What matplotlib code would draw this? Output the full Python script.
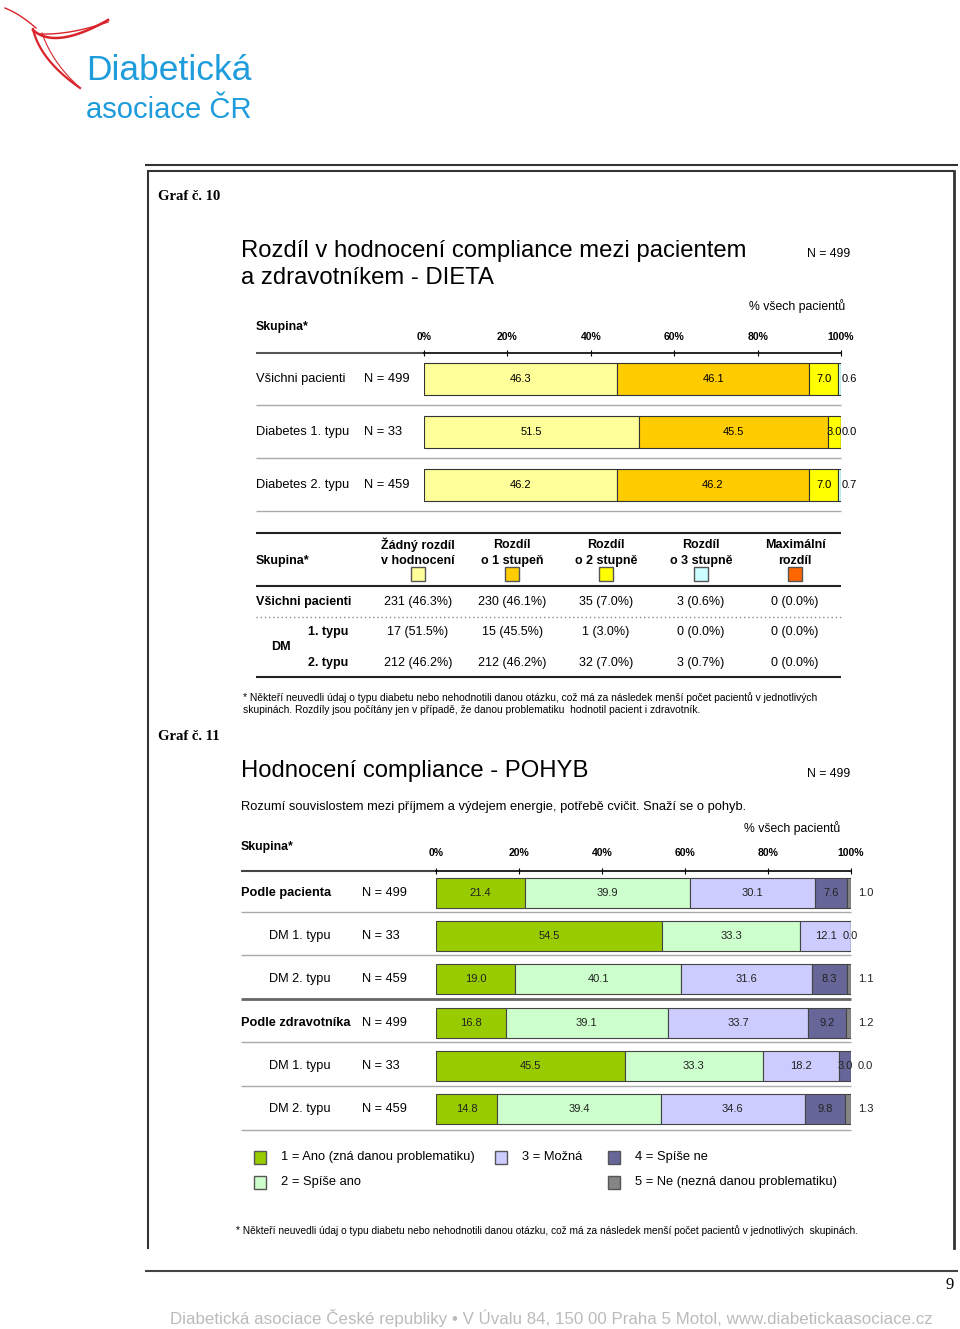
import numpy as np
import matplotlib
matplotlib.use('Agg')
import matplotlib.pyplot as plt
import matplotlib.transforms as mtransforms
from matplotlib.patches import Rectangle

plt.rcParams['font.family'] = ['Liberation Sans', 'DejaVu Sans']

# ---- data: graf 10 (DIETA) ----
diet_groups = ['Všichni pacienti', 'Diabetes 1. typu', 'Diabetes 2. typu']
diet_n = ['N = 499', 'N = 33', 'N = 459']
diet_cats = ['Žádný rozdíl\nv hodnocení', 'Rozdíl\no 1 stupeň', 'Rozdíl\no 2 stupně',
             'Rozdíl\no 3 stupně', 'Maximální\nrozdíl']
diet_colors = ['#FFFF99', '#FFCC00', '#FFFF00', '#CCFFFF', '#FF6600']
diet_all = [46.3, 46.1, 7.0, 0.6, 0.0]
diet_dm1 = [51.5, 45.5, 3.0, 0.0, 0.0]
diet_dm2 = [46.2, 46.2, 7.0, 0.7, 0.0]
diet_counts_all = [231, 230, 35, 3, 0]
diet_counts_dm1 = [17, 15, 1, 0, 0]
diet_counts_dm2 = [212, 212, 32, 3, 0]

# ---- data: graf 11 (POHYB) ----
move_groups = ['Podle pacienta', 'DM 1. typu', 'DM 2. typu',
               'Podle zdravotníka', 'DM 1. typu', 'DM 2. typu']
move_n = ['N = 499', 'N = 33', 'N = 459', 'N = 499', 'N = 33', 'N = 459']
move_cats = ['1 = Ano (zná danou problematiku)', '2 = Spíše ano', '3 = Možná',
             '4 = Spíše ne', '5 = Ne (nezná danou problematiku)']
move_colors = ['#99CC00', '#CCFFCC', '#CCCCFF', '#666699', '#858585']
move_pac = [21.4, 39.9, 30.1, 7.6, 1.0]
move_pac_dm1 = [54.5, 33.3, 12.1, 0.0, 0.0]
move_pac_dm2 = [19.0, 40.1, 31.6, 8.3, 1.1]
move_zdr = [16.8, 39.1, 33.7, 9.2, 1.2]
move_zdr_dm1 = [45.5, 33.3, 18.2, 3.0, 0.0]
move_zdr_dm2 = [14.8, 39.4, 34.6, 9.8, 1.3]

ticks = [0, 20, 40, 60, 80, 100]
tick_labels = ['0%', '20%', '40%', '60%', '80%', '100%']

W, H = 960, 1329
fig = plt.figure(figsize=(W / 100, H / 100), dpi=100)
page = fig.add_axes([0, 0, 1, 1])
page.set_xlim(0, W)
page.set_ylim(H, 0)
page.axis('off')


def px_axes(x0, y0, x1, y1):
    return fig.add_axes([x0 / W, 1 - y1 / H, (x1 - x0) / W, (y1 - y0) / H])


def hline(y, x0, x1, color='#999999', lw=1.0, ls='-'):
    page.plot([x0, x1], [y, y], color=color, lw=lw, ls=ls, solid_capstyle='butt')


# ---- logo ----
def bez(p0, p1, p2, n=40):
    t = np.linspace(0, 1, n)[:, None]
    pts = (1 - t) ** 2 * np.array(p0) + 2 * (1 - t) * t * np.array(p1) + t ** 2 * np.array(p2)
    return pts[:, 0], pts[:, 1]

red = '#D9242B'
for p0, p1, p2, lw in [((5, 8), (20, 14), (36, 28), 1.0),
                       ((33, 30), (55, 50), (108, 20), 1.8),
                       ((40, 34), (70, 35), (108, 22), 1.0),
                       ((33, 29), (40, 60), (80, 88), 1.6),
                       ((42, 33), (52, 62), (78, 86), 0.8)]:
    x, y = bez(p0, p1, p2)
    page.plot(x, y, color=red, lw=lw)
page.text(86, 70, 'Diabetická', color='#1E9CDB', fontsize=25.5, va='center', ha='left')
page.text(86, 110, 'asociace ČR', color='#1E9CDB', fontsize=21, va='center', ha='left')

# ---- page frame ----
hline(165, 145, 958, color='#333333', lw=1.5)
hline(171, 148, 954, color='#333333', lw=1.5)
page.plot([148, 148], [171, 1248], color='#333333', lw=1.5)
page.plot([954, 954], [171, 1248], color='#333333', lw=2.0)
hline(1271, 145, 958, color='#444444', lw=1.5)
page.text(950, 1285, '9', family='Liberation Serif', fontsize=12, ha='center', va='center')
page.text(551, 1318, 'Diabetická asociace České republiky • V Úvalu 84, 150 00 Praha 5 Motol, '
          'www.diabetickaasociace.cz', color='#BBBBBB', fontsize=12.2, ha='center', va='center')

serif_bold = dict(family='Liberation Serif', fontweight='bold', fontsize=10.5, va='center')

# ================= Graf 10 =================
page.text(158, 197, 'Graf č. 10', **serif_bold)
page.text(241, 251, 'Rozdíl v hodnocení compliance mezi pacientem', fontsize=17.2, va='center')
page.text(241, 278, 'a zdravotníkem - DIETA', fontsize=17.2, va='center')
page.text(807, 254, 'N = 499', fontsize=8.8, va='center')
page.text(845, 306, '% všech pacientů', fontsize=8.8, va='center', ha='right')
page.text(256, 327, 'Skupina*', fontsize=8.8, fontweight='bold', va='center')

ax1 = px_axes(424, 353, 841, 511)
rows1 = [diet_all, diet_dm1, diet_dm2]
for i, vals in enumerate(rows1):
    left = 0
    for j, v in enumerate(vals):
        ax1.barh(i, v, left=left, height=0.61, color=diet_colors[j], edgecolor='#333333', lw=0.8)
        if j < 3:
            ax1.text(left + v / 2, i, f'{v:.1f}', ha='center', va='center', fontsize=8)
        elif j == 3:
            ax1.text(100.2, i, f'{v:.1f}', ha='left', va='center', fontsize=8, clip_on=False)
        left += v
ax1.set_xlim(0, 100)
ax1.set_ylim(len(rows1) - 0.5, -0.5)
ax1.xaxis.tick_top()
ax1.set_xticks(ticks)
ax1.set_xticklabels(tick_labels, fontweight='bold', fontsize=7.5)
ax1.tick_params(axis='x', direction='inout', length=4, pad=6, width=0.8)
ax1.set_yticks([])
for s in ['left', 'right', 'bottom']:
    ax1.spines[s].set_visible(False)
ax1.spines['top'].set_linewidth(1.2)
ax1.patch.set_alpha(0)
hline(353, 256, 424, color='#555555', lw=1.5)

blend1 = mtransforms.blended_transform_factory(page.transData, ax1.transData)
for i, (g, n) in enumerate(zip(diet_groups, diet_n)):
    ax1.text(256, i, g, transform=blend1, fontsize=9.3, va='center', clip_on=False)
    ax1.text(364, i, n, transform=blend1, fontsize=9.3, va='center', clip_on=False)
for y in [405, 458, 511]:
    hline(y, 256, 841, color='#AAAAAA', lw=1.0)

# table
col_x = [418, 512, 606, 701, 795]
hline(533, 256, 841, color='#222222', lw=1.5)
hline(586, 256, 841, color='#222222', lw=1.5)
hline(617, 256, 841, color='#888888', lw=1.0, ls=(0, (1, 2)))
hline(677, 256, 841, color='#222222', lw=1.5)
page.text(256, 561, 'Skupina*', fontsize=9, fontweight='bold', va='center')
for cx, cat, col in zip(col_x, diet_cats, diet_colors):
    l1, l2 = cat.split('\n')
    page.text(cx, 545, l1, fontsize=9, fontweight='bold', ha='center', va='center')
    page.text(cx, 561, l2, fontsize=9, fontweight='bold', ha='center', va='center')
    page.add_patch(Rectangle((cx - 7, 567), 14, 14, facecolor=col, edgecolor='#555555', lw=1))

table_rows = [(602, diet_counts_all, diet_all), (632, diet_counts_dm1, diet_dm1),
              (663, diet_counts_dm2, diet_dm2)]
page.text(256, 602, 'Všichni pacienti', fontsize=9, fontweight='bold', va='center')
page.text(308, 632, '1. typu', fontsize=9, fontweight='bold', va='center')
page.text(271, 647, 'DM', fontsize=9, fontweight='bold', va='center')
page.text(308, 663, '2. typu', fontsize=9, fontweight='bold', va='center')
for y, cnts, pcts in table_rows:
    for cx, c, p in zip(col_x, cnts, pcts):
        page.text(cx, y, f'{c} ({p:.1f}%)', fontsize=9, ha='center', va='center')

page.text(243, 698, '* Někteří neuvedli údaj o typu diabetu nebo nehodnotili danou otázku, což má za '
          'následek menší počet pacientů v jednotlivých', fontsize=7.35, va='center')
page.text(243, 710, 'skupinách. Rozdíly jsou počítány jen v případě, že danou problematiku  '
          'hodnotil pacient i zdravotník.', fontsize=7.35, va='center')

# ================= Graf 11 =================
page.text(158, 737, 'Graf č. 11', **serif_bold)
page.text(241, 771, 'Hodnocení compliance - POHYB', fontsize=17.2, va='center')
page.text(807, 774, 'N = 499', fontsize=8.8, va='center')
page.text(241, 807, 'Rozumí souvislostem mezi příjmem a výdejem energie, potřebě cvičit. '
          'Snaží se o pohyb.', fontsize=9.3, va='center')
page.text(840, 828, '% všech pacientů', fontsize=8.8, va='center', ha='right')
page.text(241, 847, 'Skupina*', fontsize=8.8, fontweight='bold', va='center')

ax2 = px_axes(436, 871, 851, 1131)
rows2 = [move_pac, move_pac_dm1, move_pac_dm2, move_zdr, move_zdr_dm1, move_zdr_dm2]
for i, vals in enumerate(rows2):
    left = 0
    for j, v in enumerate(vals):
        ax2.barh(i, v, left=left, height=0.69, color=move_colors[j], edgecolor='#444444', lw=0.8)
        if j < 4:
            ax2.text(left + v / 2, i, f'{v:.1f}', ha='center', va='center', fontsize=8,
                     color='#222222', clip_on=False)
        elif vals[3] > 0 or v > 0:
            ax2.text(101.7, i, f'{v:.1f}', ha='left', va='center', fontsize=8,
                     color='#222222', clip_on=False)
        left += v
ax2.set_xlim(0, 100)
ax2.set_ylim(len(rows2) - 0.5, -0.5)
ax2.xaxis.tick_top()
ax2.set_xticks(ticks)
ax2.set_xticklabels(tick_labels, fontweight='bold', fontsize=7.5)
ax2.tick_params(axis='x', direction='inout', length=4, pad=7, width=0.8)
ax2.set_yticks([])
for s in ['left', 'right', 'bottom']:
    ax2.spines[s].set_visible(False)
ax2.spines['top'].set_linewidth(1.2)
ax2.patch.set_alpha(0)
hline(871, 241, 436, color='#444444', lw=1.5)

blend2 = mtransforms.blended_transform_factory(page.transData, ax2.transData)
for i, (g, n) in enumerate(zip(move_groups, move_n)):
    bold = g.startswith('Podle')
    ax2.text(241 if bold else 269, i, g, transform=blend2, fontsize=9.2, va='center',
             fontweight='bold' if bold else 'normal', clip_on=False)
    ax2.text(362, i, n, transform=blend2, fontsize=9.2, va='center', clip_on=False)
for y in [912, 955, 1042, 1086, 1130]:
    hline(y, 241, 851, color='#AAAAAA', lw=1.0)
hline(999, 241, 851, color='#666666', lw=2.0)

# legend
leg_pos = [(254, 1157), (254, 1182), (495, 1157), (608, 1157), (608, 1182)]
for (lx, ly), cat, col in zip(leg_pos, move_cats, move_colors):
    page.add_patch(Rectangle((lx, ly - 6.5), 12, 13, facecolor=col, edgecolor='#555555', lw=1))
    page.text(lx + 27, ly, cat, fontsize=9.3, va='center')

page.text(236, 1231, '* Někteří neuvedli údaj o typu diabetu nebo nehodnotili danou otázku, což má za '
          'následek menší počet pacientů v jednotlivých  skupinách.', fontsize=7.33, va='center')

fig.savefig('out.png', dpi=100)
